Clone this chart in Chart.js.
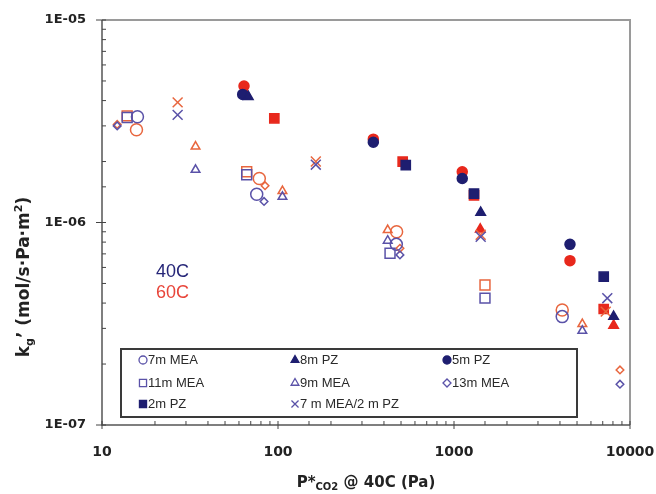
<!DOCTYPE html>
<html>
<head>
<meta charset="utf-8">
<script src="https://cdn.jsdelivr.net/npm/chart.js@4.4.0/dist/chart.umd.min.js"></script>
<style>
html, body { margin: 0; padding: 0; background: #fff; }
</style>
</head>
<body>
<canvas id="myChart" width="656" height="494"></canvas>
<script>
// P*CO2 (Pa) and kg' values, 40C and 60C, per solvent
const mea7_p40 = [15.9, 75.7, 470, 4120];
const mea7_k40 = [3.33e-6, 1.38e-6, 7.8e-7, 3.43e-7];
const mea7_p60 = [15.7, 78.3, 472, 4120];
const mea7_k60 = [2.87e-6, 1.65e-6, 9.0e-7, 3.7e-7];

const mea11_p40 = [13.9, 66.4, 433, 1500];
const mea11_k40 = [3.30e-6, 1.72e-6, 7.05e-7, 4.23e-7];
const mea11_p60 = [13.9, 66.4, 1500];
const mea11_k60 = [3.36e-6, 1.78e-6, 4.91e-7];

const mea13_p40 = [12.2, 83.3, 493, 8770];
const mea13_k40 = [3.0e-6, 1.27e-6, 6.92e-7, 1.59e-7];
const mea13_p60 = [12.2, 84.4, 493, 8770];
const mea13_k60 = [3.05e-6, 1.52e-6, 7.46e-7, 1.87e-7];

const mea9_p40 = [34, 106, 420, 5360];
const mea9_k40 = [1.82e-6, 1.34e-6, 8.13e-7, 2.92e-7];
const mea9_p60 = [34, 106, 420, 5360];
const mea9_k60 = [2.37e-6, 1.43e-6, 9.18e-7, 3.15e-7];

const pz8_p40 = [67.8, 1418, 8070];
const pz8_k40 = [4.18e-6, 1.12e-6, 3.43e-7];
const pz8_p60 = [66, 1410, 8070];
const pz8_k60 = [4.3e-6, 9.26e-7, 3.1e-7];

const pz5_p40 = [63, 348, 1114, 4560];
const pz5_k40 = [4.29e-6, 2.49e-6, 1.65e-6, 7.8e-7];
const pz5_p60 = [64.1, 348, 1114, 4560];
const pz5_k60 = [4.72e-6, 2.58e-6, 1.78e-6, 6.48e-7];

const pz2_p40 = [532, 1299, 7090];
const pz2_k40 = [1.92e-6, 1.39e-6, 5.4e-7];
const pz2_p60 = [95.3, 511, 1299, 7090];
const pz2_k60 = [3.27e-6, 2.0e-6, 1.36e-6, 3.74e-7];

const blend_p40 = [26.9, 164, 1418, 7430];
const blend_k40 = [3.40e-6, 1.93e-6, 8.5e-7, 4.23e-7];
const blend_p60 = [26.9, 164, 1418, 7280];
const blend_k60 = [3.92e-6, 2.0e-6, 8.7e-7, 3.63e-7];

const xTicks = [10, 100, 1000, 10000];
const yTicks = [1e-7, 1e-6, 1e-5];

const navy = '#1e1e70';
const blueOpen = '#5a52a8';
const red = '#e8281c';
const redOpen = '#e8663e';

function makeSet(label, px, ky, style, radius, color, filled) {
    return {
        label: label,
        data: px.map((p, i) => ({ x: p, y: ky[i] })),
        pointStyle: style,
        pointRadius: radius,
        pointHoverRadius: radius,
        pointBackgroundColor: filled ? color : 'rgba(0,0,0,0)',
        pointBorderColor: color,
        pointBorderWidth: 1.5,
        showLine: false
    };
}

let datasets = [
    makeSet('7m MEA', mea7_p40, mea7_k40, 'circle', 6, blueOpen, false),
    makeSet('11m MEA', mea11_p40, mea11_k40, 'rect', 7, blueOpen, false),
    makeSet('13m MEA', mea13_p40, mea13_k40, 'rectRot', 3.8, blueOpen, false),
    makeSet('9m MEA', mea9_p40, mea9_k40, 'triangle', 5, blueOpen, false),
    makeSet('7 m MEA/2 m PZ', blend_p40, blend_k40, 'crossRot', 7, blueOpen, false),
    makeSet('8m PZ', pz8_p40, pz8_k40, 'triangle', 5.5, navy, true),
    makeSet('5m PZ', pz5_p40, pz5_k40, 'circle', 5, navy, true),
    makeSet('2m PZ', pz2_p40, pz2_k40, 'rect', 6.5, navy, true),
    makeSet('7m MEA 60C', mea7_p60, mea7_k60, 'circle', 6, redOpen, false),
    makeSet('11m MEA 60C', mea11_p60, mea11_k60, 'rect', 7, redOpen, false),
    makeSet('13m MEA 60C', mea13_p60, mea13_k60, 'rectRot', 3.8, redOpen, false),
    makeSet('9m MEA 60C', mea9_p60, mea9_k60, 'triangle', 5, redOpen, false),
    makeSet('7 m MEA/2 m PZ 60C', blend_p60, blend_k60, 'crossRot', 7, redOpen, false),
    makeSet('8m PZ 60C', pz8_p60, pz8_k60, 'triangle', 5.5, red, true),
    makeSet('5m PZ 60C', pz5_p60, pz5_k60, 'circle', 5, red, true),
    makeSet('2m PZ 60C', pz2_p60, pz2_k60, 'rect', 6.5, red, true)
];

// legend entries: [text, style, radius, filled, col, row]
const legendItems = [
    ['7m MEA', 'circle', 4, false, 0, 0],
    ['8m PZ', 'triangle', 4.5, true, 1, 0],
    ['5m PZ', 'circle', 4, true, 2, 0],
    ['11m MEA', 'rect', 5, false, 0, 1],
    ['9m MEA', 'triangle', 4.5, false, 1, 1],
    ['13m MEA', 'rectRot', 4, false, 2, 1],
    ['2m PZ', 'rect', 5, true, 0, 2],
    ['7 m MEA/2 m PZ', 'crossRot', 5, false, 1, 2]
];

const FONT = '"Liberation Sans", Arial, sans-serif';
const AXFONT = '"DejaVu Sans", Verdana, sans-serif';

const framePlugin = {
    id: 'frame',
    beforeDatasetsDraw(chart) {
        const ctx = chart.ctx;
        const a = chart.chartArea;
        ctx.save();
        // top and right border
        ctx.strokeStyle = '#9a9a9a';
        ctx.lineWidth = 2;
        ctx.beginPath();
        ctx.moveTo(a.left, a.top);
        ctx.lineTo(a.right, a.top);
        ctx.lineTo(a.right, a.bottom);
        ctx.stroke();
        // axes
        ctx.strokeStyle = '#555';
        ctx.lineWidth = 1.5;
        ctx.beginPath();
        ctx.moveTo(a.left, a.top);
        ctx.lineTo(a.left, a.bottom);
        ctx.lineTo(a.right, a.bottom);
        ctx.stroke();
        // tick marks
        ctx.lineWidth = 1;
        ctx.strokeStyle = '#444';
        chart.scales.x.ticks.forEach(t => {
            const px = chart.scales.x.getPixelForValue(t.value);
            const major = Math.abs(Math.log10(t.value) - Math.round(Math.log10(t.value))) < 1e-6;
            ctx.beginPath();
            ctx.moveTo(px, a.bottom - 4);
            ctx.lineTo(px, a.bottom + (major ? 4 : 0));
            ctx.stroke();
        });
        chart.scales.y.ticks.forEach(t => {
            const py = chart.scales.y.getPixelForValue(t.value);
            const major = Math.abs(Math.log10(t.value) - Math.round(Math.log10(t.value))) < 1e-6;
            ctx.beginPath();
            ctx.moveTo(a.left - (major ? 6 : 0), py);
            ctx.lineTo(a.left + 4, py);
            ctx.stroke();
        });
        ctx.restore();
    },
    afterDraw(chart) {
        const ctx = chart.ctx;
        ctx.save();

        // temperature labels
        ctx.font = '18px ' + FONT;
        ctx.textBaseline = 'middle';
        ctx.fillStyle = '#262678';
        ctx.fillText('40C', 156, 272);
        ctx.fillStyle = '#e8453a';
        ctx.fillText('60C', 156, 293);

        // legend box
        const box = { left: 121, top: 349, right: 577, bottom: 417 };
        ctx.fillStyle = '#fff';
        ctx.fillRect(box.left, box.top, box.right - box.left, box.bottom - box.top);
        ctx.strokeStyle = '#3a3a3a';
        ctx.lineWidth = 2;
        ctx.strokeRect(box.left, box.top, box.right - box.left, box.bottom - box.top);
        const colX = [143, 295, 447];
        const rowY = [360, 383, 404];
        ctx.font = '13px ' + FONT;
        legendItems.forEach(it => {
            const x = colX[it[4]];
            const y = rowY[it[5]];
            const c = it[3] ? navy : blueOpen;
            ctx.fillStyle = it[3] ? c : 'rgba(0,0,0,0)';
            ctx.strokeStyle = c;
            ctx.lineWidth = 1.3;
            Chart.helpers.drawPoint(ctx, { pointStyle: it[1], radius: it[2], rotation: 0, borderWidth: 1.3 }, x, y);
            ctx.fillStyle = '#2a2a2a';
            ctx.textAlign = 'left';
            ctx.fillText(it[0], x + 5, y);
        });

        // x axis title with subscript
        ctx.fillStyle = '#222';
        ctx.textBaseline = 'alphabetic';
        const bold = 'bold 15px ' + AXFONT;
        const boldSmall = 'bold 10px ' + AXFONT;
        const parts = [['P*', bold, 0], ['CO2', boldSmall, 3], [' @ 40C (Pa)', bold, 0]];
        let w = 0;
        parts.forEach(p => { ctx.font = p[1]; w += ctx.measureText(p[0]).width; });
        let cx = (chart.chartArea.left + chart.chartArea.right) / 2 - w / 2;
        parts.forEach(p => {
            ctx.font = p[1];
            ctx.fillText(p[0], cx, 487 + p[2]);
            cx += ctx.measureText(p[0]).width;
        });

        // y axis title, rotated
        const ybold = 'bold 17px ' + AXFONT;
        const ysmall = 'bold 11px ' + AXFONT;
        ctx.translate(29, 277);
        ctx.rotate(-Math.PI / 2);
        const yparts = [['k', ybold, 0], ['g', ysmall, 4], ['\u2019 (mol/s\u00b7Pa\u00b7m', ybold, 0], ['2', ysmall, -7], [')', ybold, 0]];
        w = 0;
        yparts.forEach(p => { ctx.font = p[1]; w += ctx.measureText(p[0]).width; });
        cx = -w / 2;
        yparts.forEach(p => {
            ctx.font = p[1];
            ctx.fillText(p[0], cx, p[2]);
            cx += ctx.measureText(p[0]).width;
        });
        ctx.restore();
    }
};

function decadeLabel(v, fmt) {
    const e = Math.log10(v);
    if (Math.abs(e - Math.round(e)) > 1e-6) return '';
    return fmt(Math.round(e));
}

new Chart(document.getElementById('myChart'), {
    type: 'scatter',
    data: { datasets: datasets },
    options: {
        responsive: false,
        animation: false,
        layout: { padding: { left: 0, top: 20, right: 26, bottom: 0 } },
        plugins: {
            legend: { display: false },
            tooltip: { enabled: false }
        },
        scales: {
            x: {
                type: 'logarithmic',
                min: xTicks[0],
                max: xTicks[xTicks.length - 1],
                afterFit: s => { s.height = 69; s.paddingLeft = 0; s.paddingRight = 0; },
                grid: { display: false, drawTicks: false },
                border: { display: false },
                ticks: {
                    autoSkip: false,
                    maxRotation: 0,
                    padding: 19,
                    color: '#222',
                    font: { family: AXFONT, size: 14, weight: 'bold' },
                    callback: v => decadeLabel(v, e => String(Math.pow(10, e)))
                }
            },
            y: {
                type: 'logarithmic',
                min: yTicks[0],
                max: yTicks[yTicks.length - 1],
                afterFit: s => { s.width = 102; s.paddingTop = 0; s.paddingBottom = 0; },
                grid: { display: false, drawTicks: false },
                border: { display: false },
                ticks: {
                    autoSkip: false,
                    padding: 16,
                    color: '#222',
                    font: { family: AXFONT, size: 13, weight: 'bold' },
                    callback: v => decadeLabel(v, e => '1E-' + String(-e).padStart(2, '0'))
                }
            }
        }
    },
    plugins: [framePlugin]
});
</script>
</body>
</html>
